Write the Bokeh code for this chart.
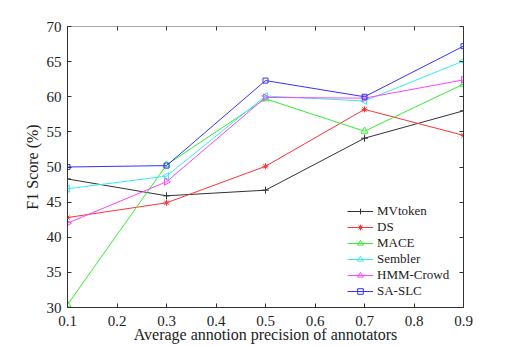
import numpy as np
from bokeh.plotting import figure
from bokeh.models import LinearAxis, FixedTicker, Range1d, Legend, LegendItem
from bokeh.embed import file_html
from bokeh.resources import INLINE

x = [0.1, 0.3, 0.5, 0.7, 0.9]
mvtoken = [48.3, 45.9, 46.7, 54.1, 58.0]
ds = [42.8, 44.9, 50.1, 58.2, 54.5]
mace = [30.4, 50.3, 59.7, 55.1, 61.8]
sembler = [46.9, 48.7, 60.1, 59.4, 65.1]
hmm = [42.0, 47.9, 59.9, 59.8, 62.4]
saslc = [50.0, 50.2, 62.3, 60.0, 67.2]

names = ["MVtoken", "DS", "MACE", "Sembler", "HMM-Crowd", "SA-SLC"]
series = [mvtoken, ds, mace, sembler, hmm, saslc]
colors = ["#333333", "#ff3333", "#33ee33", "#33eeee", "#ff44ff", "#3333ff"]
markers = ["cross", "asterisk", "triangle", "triangle", "triangle", "square"]
angles = [0, 0, 0, np.pi / 2, -np.pi / 2, 0]
sizes = [7, 6, 7, 7, 7, 5]

x_ticks = [0.1, 0.2, 0.3, 0.4, 0.5, 0.6, 0.7, 0.8, 0.9]
y_ticks = [30, 35, 40, 45, 50, 55, 60, 65, 70]

FONT = "Liberation Serif"

p = figure(width=500, height=346, output_backend="svg", toolbar_location=None,
           x_range=Range1d(0.1, 0.9), y_range=Range1d(30, 70),
           min_border_left=67, min_border_right=37, min_border_top=26, min_border_bottom=39)
p.xgrid.visible = False
p.ygrid.visible = False
p.outline_line_color = "#aaaaaa"

for ax, tk in ((p.xaxis[0], x_ticks), (p.yaxis[0], y_ticks)):
    ax.ticker = FixedTicker(ticks=tk)
    ax.major_tick_in = 4
    ax.major_tick_out = 0
    ax.minor_tick_in = 0
    ax.minor_tick_out = 0
    ax.major_label_text_font = FONT
    ax.major_label_text_font_size = "15px"
    ax.major_label_text_color = "#222222"
    ax.axis_label_text_font = FONT
    ax.axis_label_text_font_size = "16px"
    ax.axis_label_text_font_style = "normal"
    ax.axis_label_text_color = "#222222"
    ax.axis_line_color = "#333333"
    ax.major_tick_line_color = "#333333"

p.xaxis[0].axis_label = "Average annotion precision of annotators"
p.yaxis[0].axis_label = "F1 Score (%)"
p.xaxis[0].axis_label_standoff = -3
p.yaxis[0].axis_label_standoff = 3
p.xaxis[0].major_label_standoff = 8
p.yaxis[0].major_label_standoff = 6

top = LinearAxis(ticker=FixedTicker(ticks=x_ticks), major_tick_in=4, major_tick_out=0,
                 minor_tick_in=0, minor_tick_out=0,
                 major_label_overrides={t: "" for t in x_ticks},
                 axis_line_color="#aaaaaa", major_tick_line_color="#333333")
right = LinearAxis(ticker=FixedTicker(ticks=y_ticks), major_tick_in=4, major_tick_out=0,
                   minor_tick_in=0, minor_tick_out=0,
                   major_label_overrides={t: "" for t in y_ticks},
                   axis_line_color="#333333", major_tick_line_color="#333333")
p.add_layout(top, "above")
p.add_layout(right, "right")

items = []
for name, ys, c, m, a, s in zip(names, series, colors, markers, angles, sizes):
    r1 = p.line(x, ys, line_color=c, line_width=1)
    r2 = p.scatter(x, ys, marker=m, angle=a, size=s, line_color=c, fill_color=None, line_width=1)
    items.append(LegendItem(label=name, renderers=[r1, r2]))

leg = Legend(items=items, location=(280, 8), border_line_color=None, background_fill_alpha=0,
             padding=0, margin=0, spacing=0, glyph_width=26, glyph_height=14, label_height=14,
             label_standoff=4, label_text_font=FONT, label_text_font_size="13px",
             label_text_line_height=1.0, label_text_color="#222222")
p.add_layout(leg, "center")

open("out.html", "w").write(file_html(p, INLINE))
